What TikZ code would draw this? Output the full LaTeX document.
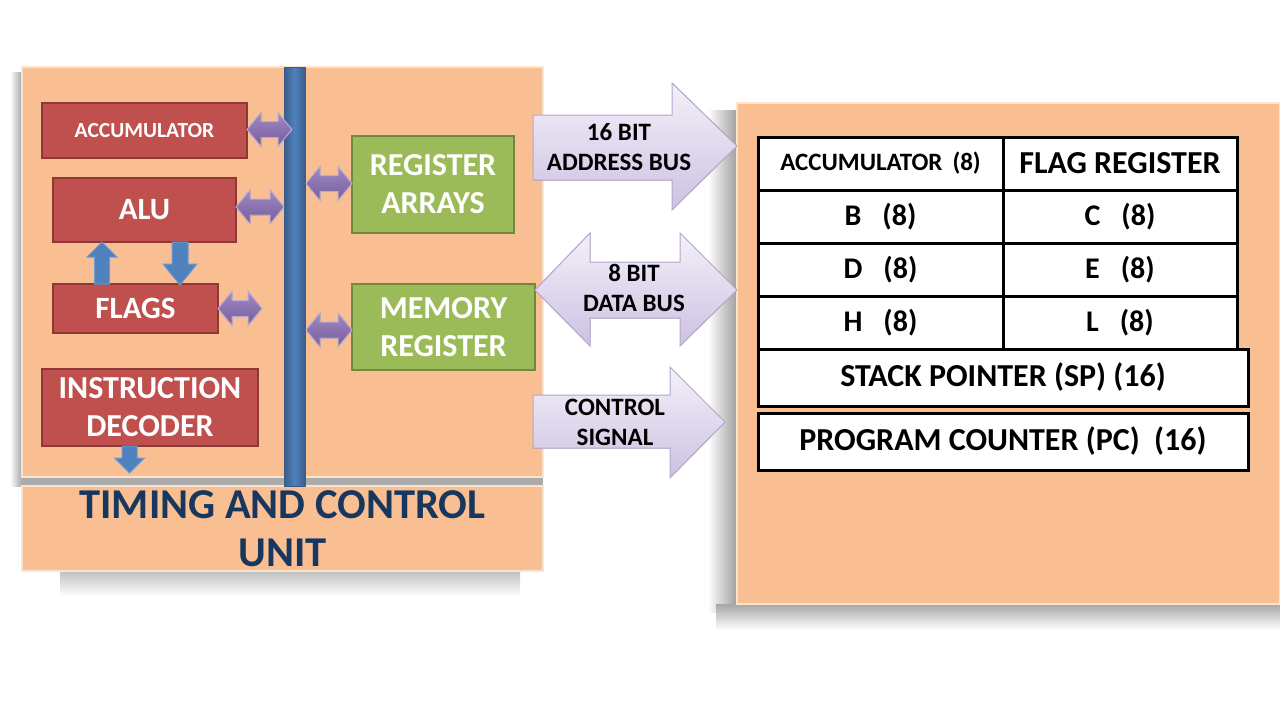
\documentclass[tikz,border=0pt]{standalone}
\usepackage{fontspec}
\setmainfont{Carlito}
\usetikzlibrary{calc}
\definecolor{panel}{HTML}{F9BF92}
\definecolor{panelline}{HTML}{FCE3CC}
\definecolor{rfill}{HTML}{C0504D}
\definecolor{rline}{HTML}{8C3836}
\definecolor{gfill}{HTML}{9BBB59}
\definecolor{gline}{HTML}{71893F}
\definecolor{bfill}{HTML}{4F81BD}
\definecolor{bline}{HTML}{385D8A}
\definecolor{bedge}{HTML}{6F9BD2}
\definecolor{ptop}{HTML}{A08AC2}
\definecolor{pbot}{HTML}{765C9C}
\definecolor{pedge}{HTML}{B9AAD4}
\definecolor{lavtop}{HTML}{F4F0F9}
\definecolor{lavbot}{HTML}{CDC1E2}
\definecolor{lavline}{HTML}{B4A6CE}
\definecolor{navy}{HTML}{17375E}
\newcommand\blockarrow[6]{% #1 style, #2 A, #3 B, #4 half shaft, #5 half head, #6 head length
  \path ($(#3)!#6!(#2)$) coordinate (bH);
  \filldraw[#1] ($(#2)!#4!90:(#3)$) -- ($(bH)!#4!90:(#3)$) -- ($(bH)!#5!90:(#3)$) -- (#3)
    -- ($(bH)!#5!-90:(#3)$) -- ($(bH)!#4!-90:(#3)$) -- ($(#2)!#4!-90:(#3)$) -- cycle;}
\newcommand\dblarrow[6]{%
  \path ($(#2)!#6!(#3)$) coordinate (dH1) ($(#3)!#6!(#2)$) coordinate (dH2);
  \filldraw[#1] (#2) -- ($(dH1)!#5!90:(#3)$) -- ($(dH1)!#4!90:(#3)$) -- ($(dH2)!#4!90:(#3)$)
    -- ($(dH2)!#5!90:(#3)$) -- (#3) -- ($(dH2)!#5!-90:(#3)$) -- ($(dH2)!#4!-90:(#3)$)
    -- ($(dH1)!#4!-90:(#3)$) -- ($(dH1)!#5!-90:(#3)$) -- cycle;}
\tikzset{
  panelsty/.style={fill=panel, draw=panelline, line width=2.5pt, inner sep=0, outer sep=0},
  boxsty/.style={inner sep=0, outer sep=0, align=center, text=white, line width=2pt},
  redbox/.style={boxsty, fill=rfill, draw=rline},
  greenbox/.style={boxsty, fill=gfill, draw=gline},
  cell/.style={draw=black, line width=3pt, fill=white, inner sep=0, outer sep=0, text=black},
  smallarr/.style={top color=ptop, bottom color=pbot, draw=pedge, line width=1pt},
  bluearr/.style={fill=bfill, draw=bedge, line width=1pt},
  bigarr/.style={top color=lavtop, bottom color=lavbot, draw=lavline, line width=1pt},
  buslabel/.style={align=center, text=black, font=\bfseries\fontsize{25}{30}\selectfont, inner sep=0}
}
\begin{document}
\begin{tikzpicture}[x=1pt,y=-1pt]
\useasboundingbox (0,0) rectangle (1280,720);
\fill[white] (0,0) rectangle (1280,720);
% shadows
\shade[left color=white, right color=black!35] (10,72) rectangle (22,486);
\fill[black!33] (22,476) rectangle (543,487);
\shade[top color=black!25, bottom color=white] (60,571) rectangle (520,596);
\shade[left color=white, right color=black!38] (708,110) rectangle (737,612);
\shade[top color=black!35, bottom color=white] (716,604) rectangle (1280,630);
% panels
\node[panelsty, minimum width=521, minimum height=410] (cpu) at (282.5,272) {};
\node[panelsty, minimum width=521, minimum height=85, text=navy, align=center,
  font=\bfseries\fontsize{42.5}{48}\selectfont] (tcu) at (282.5,528.5) {TIMING AND CONTROL\\UNIT};
\node[panelsty, minimum width=543, minimum height=501] (mem) at (1008.5,353.5) {};
% internal bus
\node[inner sep=0, outer sep=0, minimum width=21, minimum height=419, left color=bline, right color=bline,
  middle color=bfill, draw=bline, line width=1pt] (bus) at (294.5,276.5) {};
% red boxes
\node[redbox, minimum width=205, minimum height=55, font=\bfseries\fontsize{21.5}{24}\selectfont] (acc) at (144.5,130.5) {ACCUMULATOR};
\node[redbox, minimum width=183, minimum height=64, font=\bfseries\fontsize{31}{36}\selectfont] (alu) at (144.5,210) {ALU};
\node[redbox, minimum width=165, minimum height=49, font=\bfseries\fontsize{31}{36}\selectfont] (flags) at (135.5,308.5) {FLAGS};
\node[redbox, minimum width=216, minimum height=77, font=\bfseries\fontsize{32}{38}\selectfont] (dec) at (150,407.5) {INSTRUCTION\\DECODER};
% green boxes
\node[greenbox, minimum width=162, minimum height=97, font=\bfseries\fontsize{32}{38}\selectfont] (ra) at (433,184.5) {REGISTER\\ARRAYS};
\node[greenbox, minimum width=183, minimum height=86, font=\bfseries\fontsize{32}{38}\selectfont] (mr) at (443.5,327) {MEMORY\\REGISTER};
% small purple double arrows
\coordinate (s1a) at ($(acc.east)+(0,-1)$); \coordinate (s1b) at ($(bus.west |- s1a)+(8,0)$);
\coordinate (s2a) at ($(alu.east)+(0,-3)$); \coordinate (s2b) at (bus.west |- s2a);
\coordinate (s3a) at (flags.east); \coordinate (s3b) at ($(s3a)+(44,0)$);
\coordinate (s4b) at ($(ra.west)+(0,-1)$); \coordinate (s4a) at ($(bus.east |- s4b)+(1,0)$);
\coordinate (s5b) at ($(mr.west)+(0,3)$); \coordinate (s5a) at ($(bus.east |- s5b)+(1,0)$);
\dblarrow{smallarr}{s1a}{s1b}{8pt}{17pt}{14pt}
\dblarrow{smallarr}{s2a}{s2b}{8pt}{17pt}{14pt}
\dblarrow{smallarr}{s3a}{s3b}{8pt}{17pt}{14pt}
\dblarrow{smallarr}{s4a}{s4b}{8pt}{17pt}{14pt}
\dblarrow{smallarr}{s5a}{s5b}{8pt}{17pt}{14pt}
% blue arrows
\coordinate (u1a) at (flags.north -| 102,0);
\coordinate (u1b) at (alu.south -| 102,0);
\coordinate (u2a) at (alu.south -| 180,0);
\coordinate (u2b) at ($(flags.north -| 180,0)+(0,1)$);
\coordinate (u3a) at (dec.south -| 129.5,0);
\coordinate (u3b) at (129.5,473);
\blockarrow{bluearr}{u1a}{u1b}{7.5pt}{15pt}{15pt}
\blockarrow{bluearr}{u2a}{u2b}{8pt}{17pt}{21pt}
\blockarrow{bluearr}{u3a}{u3b}{7.5pt}{15pt}{15pt}
% big bus arrows
\filldraw[bigarr] (533,115) -- (672,115) -- (672,83) -- (737,146) -- (672,210) -- (672,180) -- (533,180) -- cycle;
\filldraw[bigarr] (535,290) -- (590,233) -- (590,262) -- (680,262) -- (680,233) -- (737,290) -- (680,346) -- (680,318) -- (590,318) -- (590,346) -- cycle;
\filldraw[bigarr] (533,395) -- (670,395) -- (670,367) -- (725,422) -- (670,478) -- (670,448) -- (533,448) -- cycle;
\node[buslabel] (abus) at (619,147) {16 BIT\\ADDRESS BUS};
\node[buslabel] (dbus) at (634,288) {8 BIT\\DATA BUS};
\node[buslabel] (cbus) at (615,422) {CONTROL\\SIGNAL};
% register table
\node[cell, minimum width=245, minimum height=53, font=\bfseries\fontsize{25}{28}\selectfont] (c11) at (880.5,163.5) {ACCUMULATOR\hspace{0.4em}(8)};
\node[cell, minimum width=234, minimum height=53, font=\bfseries\fontsize{32}{36}\selectfont] (c12) at (1120,163.5) {FLAG REGISTER};
\node[cell, minimum width=245, minimum height=53, font=\bfseries\fontsize{30}{36}\selectfont] (c21) at (880.5,216.5) {B\hspace{0.7em}(8)};
\node[cell, minimum width=234, minimum height=53, font=\bfseries\fontsize{30}{36}\selectfont] (c22) at (1120,216.5) {C\hspace{0.7em}(8)};
\node[cell, minimum width=245, minimum height=53, font=\bfseries\fontsize{30}{36}\selectfont] (c31) at (880.5,269.5) {D\hspace{0.7em}(8)};
\node[cell, minimum width=234, minimum height=53, font=\bfseries\fontsize{30}{36}\selectfont] (c32) at (1120,269.5) {E\hspace{0.7em}(8)};
\node[cell, minimum width=245, minimum height=53, font=\bfseries\fontsize{30}{36}\selectfont] (c41) at (880.5,322.5) {H\hspace{0.7em}(8)};
\node[cell, minimum width=234, minimum height=53, font=\bfseries\fontsize{30}{36}\selectfont] (c42) at (1120,322.5) {L\hspace{0.7em}(8)};
\node[cell, minimum width=490, minimum height=57, font=\bfseries\fontsize{32}{36}\selectfont] (sp) at (1003,377.5) {STACK POINTER (SP) (16)};
\node[cell, minimum width=490, minimum height=57, font=\bfseries\fontsize{32}{36}\selectfont] (pc) at (1003,441.5) {PROGRAM COUNTER (PC)\hspace{0.45em}(16)};
\end{tikzpicture}
\end{document}
